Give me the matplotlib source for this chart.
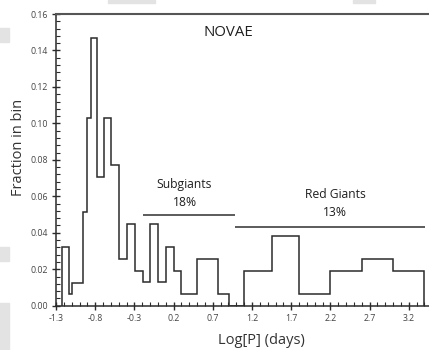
import matplotlib
matplotlib.use("Agg")
import matplotlib.pyplot as plt
from matplotlib.patches import Rectangle
from matplotlib.ticker import MultipleLocator
import numpy as np

# Histogram bin edges (log period, days) and fraction in each bin
bin_edges = [-1.22, -1.14, -1.09, -0.96, -0.90, -0.85, -0.78, -0.69, -0.60, -0.50,
             -0.40, -0.29, -0.19, -0.10, 0.00, 0.10, 0.20, 0.30, 0.50, 0.77,
             0.91, 1.10, 1.45, 1.80, 2.19, 2.60, 3.00, 3.40]
fractions = [0.032, 0.0064, 0.0127, 0.0513, 0.103, 0.147, 0.0705, 0.103, 0.077,
             0.0256, 0.0449, 0.0192, 0.0128, 0.0449, 0.0128, 0.032, 0.0192,
             0.0064, 0.0256, 0.0064, 0.0, 0.0192, 0.0385, 0.0064, 0.0192,
             0.0256, 0.0192]

# Group bars: label, percent, x-range, y level
groups = ["Subgiants", "Red Giants"]
group_pct = ["18%", "13%"]
group_x0 = [-0.19, 0.98]
group_x1 = [0.98, 3.41]
group_y = [0.050, 0.043]

xticks = [-1.3, -0.8, -0.3, 0.2, 0.7, 1.2, 1.7, 2.2, 2.7, 3.2]
yticks = [0.00, 0.02, 0.04, 0.06, 0.08, 0.10, 0.12, 0.14, 0.16]

plt.rcParams['font.family'] = ['Open Sans', 'DejaVu Sans']

W, H = 429, 350
fig = plt.figure(figsize=(W / 100, H / 100), dpi=100)
ax = fig.add_axes([56 / W, (H - 305.7) / H, (W - 56) / W, (305.7 - 14) / H])

line_col = "#2b2b2b"
ax.stairs(fractions, bin_edges, baseline=0, color=line_col, linewidth=1.1)

for g, p, x0, x1, y in zip(groups, group_pct, group_x0, group_x1, group_y):
    ax.plot([x0, x1], [y, y], color="#404040", linewidth=1.2, solid_capstyle="butt")

txt_col = "#1f1f1f"
ax.text(0.34, 0.0663, "Subgiants", ha="center", va="center", fontsize=8.7, color=txt_col)
ax.text(0.34, 0.0567, "18%", ha="center", va="center", fontsize=8.7, color=txt_col)
ax.text(2.26, 0.0609, "Red Giants", ha="center", va="center", fontsize=8.7, color=txt_col)
ax.text(2.26, 0.0512, "13%", ha="center", va="center", fontsize=8.7, color=txt_col)
ax.text(0.894, 0.150, "NOVAE", ha="center", va="center", fontsize=10.8, color=txt_col)

ax.set_xlim(-1.3, 3.458)
ax.set_ylim(0, 0.16)
ax.set_xticks(xticks)
ax.set_xticklabels([f"{t:.1f}" for t in xticks])
ax.set_yticks(yticks)
ax.set_yticklabels([f"{t:.2f}" for t in yticks])
ax.xaxis.set_minor_locator(MultipleLocator(0.1))
ax.yaxis.set_minor_locator(MultipleLocator(0.004))

ax.tick_params(which="major", direction="inout", length=6, width=1.0, color=line_col,
               labelsize=6.3, labelcolor="#444444", pad=3)
ax.tick_params(which="minor", direction="in", length=3, width=0.8, color=line_col)
ax.tick_params(axis="x", which="both", top=False)
ax.tick_params(axis="y", which="both", right=False)

ax.spines["right"].set_visible(False)
ax.spines["left"].set_color(line_col)
ax.spines["bottom"].set_color(line_col)
ax.spines["top"].set_color("#555555")
ax.spines["top"].set_linewidth(1.5)
ax.spines["left"].set_linewidth(1.1)
ax.spines["bottom"].set_linewidth(1.1)

fig.text(19 / W, 1 - 147 / H, "Fraction in bin", rotation=90, ha="center", va="center",
         fontsize=10.5, color="#333333")
fig.text(261 / W, 1 - 340 / H, "Log[P] (days)", ha="center", va="center",
         fontsize=10.5, color="#333333")

# light grey screenshot artifacts at edges
for (x0, y0, x1, y1) in [(0, 28, 9, 42), (0, 247, 9, 261), (0, 303, 9, 350),
                         (108, 0, 155, 3), (353, 0, 375, 3)]:
    fig.patches.append(Rectangle((x0 / W, 1 - y1 / H), (x1 - x0) / W, (y1 - y0) / H,
                                 transform=fig.transFigure, color="#e3e3e3", zorder=0))

fig.savefig("out.png", dpi=100)
